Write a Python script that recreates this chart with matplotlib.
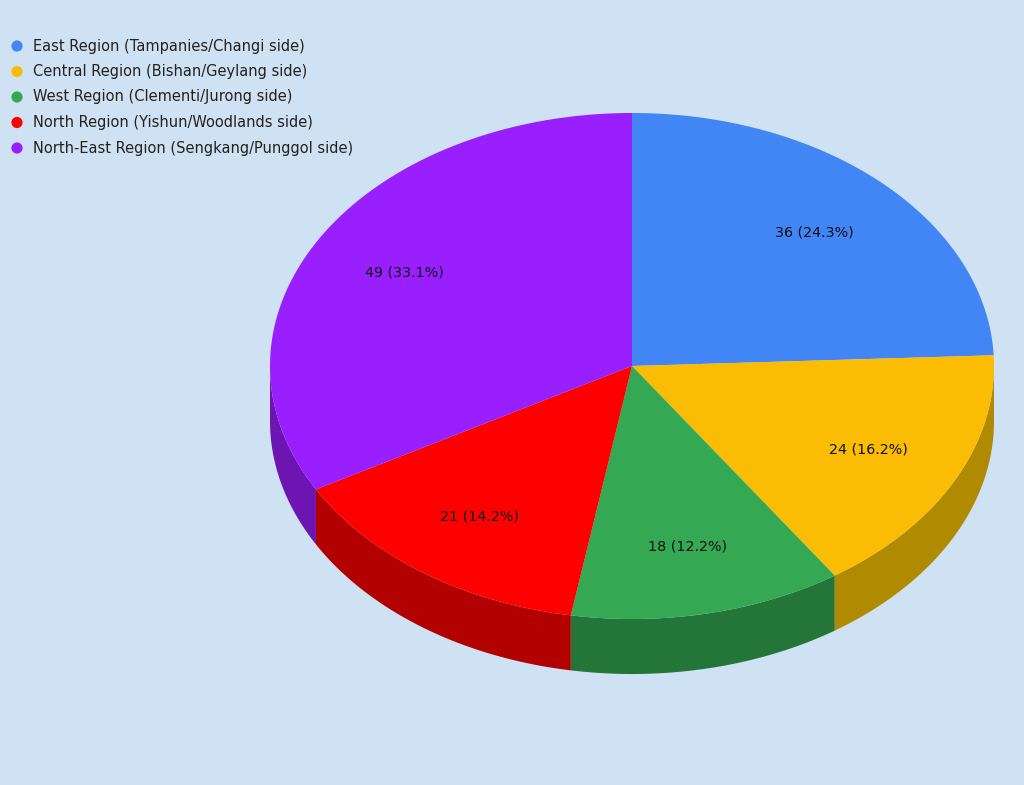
import matplotlib.pyplot as plt
import numpy as np
from matplotlib.patches import Polygon

labels = ['East Region (Tampanies/Changi side)',
          'Central Region (Bishan/Geylang side)',
          'West Region (Clementi/Jurong side)',
          'North Region (Yishun/Woodlands side)',
          'North-East Region (Sengkang/Punggol side)']
values = [36, 24, 18, 21, 49]
colors = ['#4285F4', '#FBBC04', '#34A853', '#FF0000', '#9A1FFF']
side_colors = ['#2e5daa', '#b08a00', '#247638', '#b30000', '#6c15b3']

bg = '#CFE2F3'
fig = plt.figure(figsize=(10.24, 7.85), dpi=100)
fig.patch.set_facecolor(bg)
ax = fig.add_axes([0, 0, 1, 1])
ax.set_xlim(0, 1024)
ax.set_ylim(785, 0)
ax.axis('off')

cx, cy = 632, 366
rx, ry = 362, 253
depth = 55

total = sum(values)
frac = np.array(values) / total
bounds = np.concatenate([[0], np.cumsum(frac)]) * 2 * np.pi  # clockwise from top

def pt(t):
    return cx + rx * np.sin(t), cy - ry * np.cos(t)

# side walls (only lower half visible: t in [pi/2, 3pi/2])
for i in range(len(values)):
    a = max(bounds[i], np.pi / 2)
    b = min(bounds[i + 1], 3 * np.pi / 2)
    if b <= a:
        continue
    t = np.linspace(a, b, 200)
    x, y = pt(t)
    xs = np.concatenate([x, x[::-1]])
    ys = np.concatenate([y, (y + depth)[::-1]])
    ax.add_patch(Polygon(np.column_stack([xs, ys]), closed=True,
                         facecolor=side_colors[i], edgecolor='none'))

# top faces
for i in range(len(values)):
    t = np.linspace(bounds[i], bounds[i + 1], 300)
    x, y = pt(t)
    xs = np.concatenate([[cx], x])
    ys = np.concatenate([[cy], y])
    ax.add_patch(Polygon(np.column_stack([xs, ys]), closed=True,
                         facecolor=colors[i], edgecolor='none'))
    mid = (bounds[i] + bounds[i + 1]) / 2
    lx = cx + 0.73 * rx * np.sin(mid)
    ly = cy - 0.73 * ry * np.cos(mid)
    ax.text(lx, ly, f'{values[i]} ({frac[i] * 100:.1f}%)', ha='center',
            va='center', fontsize=10.3, color='#111111')

# legend
for i, lab in enumerate(labels):
    yy = 46 + i * 25.5
    ax.scatter([17], [yy], s=65, color=colors[i], edgecolors='none')
    ax.text(33, yy, lab, ha='left', va='center', fontsize=10.5, color='#222222')

plt.savefig('out.png', dpi=100, facecolor=bg)
